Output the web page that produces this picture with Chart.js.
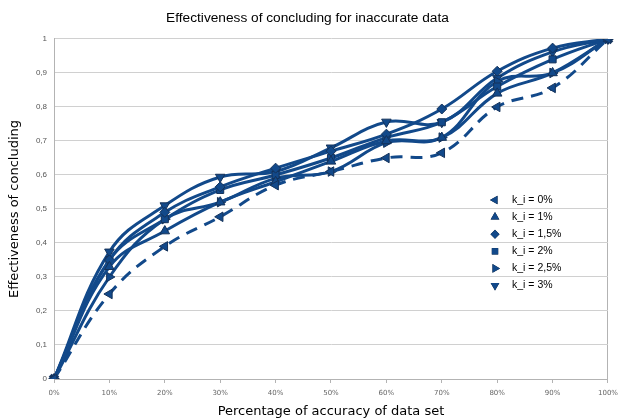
<!DOCTYPE html>
<html>
<head>
<meta charset="utf-8">
<script src="https://cdn.jsdelivr.net/npm/chart.js@4/dist/chart.umd.min.js"></script>
<style>
  body { margin: 0; background: #fff; }
  #wrap { width: 624px; height: 419px; }
</style>
</head>
<body>
<div id="wrap"><canvas id="chart"></canvas></div>
<script>
// accuracy of data set (x axis)
var xLabels = ['0%', '10%', '20%', '30%', '40%', '50%', '60%', '70%', '80%', '90%', '100%'];

var seriesNames = ['k_i = 0%', 'k_i = 1%', 'k_i = 1,5%', 'k_i = 2%', 'k_i = 2,5%', 'k_i = 3%'];

// effectiveness of concluding
var k0  = [0, 0.25, 0.39, 0.477, 0.57, 0.61, 0.65, 0.665, 0.80, 0.856, 1];
var k1  = [0, 0.33, 0.435, 0.52, 0.58, 0.64, 0.70, 0.71, 0.84, 0.90, 1];
var k15 = [0, 0.35, 0.49, 0.565, 0.62, 0.67, 0.72, 0.794, 0.905, 0.973, 1];
var k2  = [0, 0.35, 0.47, 0.556, 0.60, 0.65, 0.71, 0.755, 0.86, 0.94, 1];
var k25 = [0, 0.30, 0.47, 0.52, 0.59, 0.61, 0.695, 0.71, 0.875, 0.90, 1];
var k3  = [0, 0.374, 0.51, 0.594, 0.61, 0.68, 0.756, 0.755, 0.885, 0.962, 1];

var seriesValues = [k0, k1, k15, k2, k25, k3];

var lineColor = '#12498a';
var markerEdge = '#14325a';
// marker look per series: left, up, diamond, square, right, down
var markerStyles = [
    { style: 'triangle', rot: -90 },
    { style: 'triangle', rot: 0 },
    { style: 'rectRot', rot: 0 },
    { style: 'rect', rot: 0 },
    { style: 'triangle', rot: 90 },
    { style: 'triangle', rot: 180 }
];

var datasets = seriesValues.map(function(vals, i) {
    return {
        label: seriesNames[i],
        data: vals,
        borderColor: lineColor,
        backgroundColor: lineColor,
        borderWidth: 3,
        borderDash: i === 0 ? [12, 8] : [],
        tension: 0.4,
        fill: false,
        pointStyle: markerStyles[i].style,
        rotation: markerStyles[i].rot,
        pointRadius: markerStyles[i].style === 'triangle' ? 5.5 : 5,
        pointBorderColor: markerEdge,
        pointBackgroundColor: lineColor,
        pointBorderWidth: 1
    };
});

// legend drawn inside the plot, right side
var innerLegend = {
    id: 'innerLegend',
    afterDraw: function(chart) {
        var ctx = chart.ctx;
        ctx.save();
        chart.data.datasets.forEach(function(ds, i) {
            var y = 200 + i * 17.1;
            Chart.helpers.drawPoint(ctx, {
                pointStyle: ds.pointStyle,
                rotation: ds.rotation,
                radius: ds.pointStyle === 'triangle' ? 5 : 4.5,
                borderWidth: 0
            }, 495, y);
            ctx.fillStyle = lineColor;
            ctx.fill();
            ctx.fillStyle = '#000';
            ctx.font = '10.5px "Liberation Sans", Arial, sans-serif';
            ctx.textBaseline = 'middle';
            ctx.textAlign = 'left';
            ctx.fillText(ds.label, 512, y);
        });
        ctx.restore();
    }
};

var chart = new Chart(document.getElementById('chart').getContext('2d'), {
    type: 'line',
    data: { labels: xLabels, datasets: datasets },
    options: {
        responsive: true,
        maintainAspectRatio: false,
        animation: false,
        layout: { padding: { left: 0, right: 9, top: 0, bottom: 0 } },
        plugins: {
            legend: { display: false },
            tooltip: { enabled: false },
            title: {
                display: true,
                text: 'Effectiveness of concluding for inaccurate data',
                color: '#000',
                font: { family: '"Liberation Sans", Arial, sans-serif', size: 13.7, weight: 'normal' },
                padding: { top: 10, bottom: 12.5 }
            }
        },
        scales: {
            x: {
                offset: false,
                afterFit: function(s) { s.height = 40; },
                grid: {
                    color: function(c) { return c.index === xLabels.length - 1 ? '#b3b3b3' : 'rgba(0,0,0,0)'; },
                    tickColor: '#b3b3b3',
                    tickLength: 4
                },
                border: { color: '#b3b3b3' },
                ticks: {
                    color: '#666',
                    font: { family: '"DejaVu Sans", sans-serif', size: 7 },
                    padding: 6,
                    maxRotation: 0,
                    autoSkip: false
                },
                title: {
                    display: true,
                    text: 'Percentage of accuracy of data set',
                    color: '#000',
                    font: { family: '"DejaVu Sans", sans-serif', size: 13 },
                    padding: { top: 2, bottom: 0 }
                }
            },
            y: {
                min: 0,
                max: 1,
                afterFit: function(s) { s.width = 54; },
                grid: { color: '#d0d0d0', drawTicks: false },
                border: { color: '#b3b3b3' },
                ticks: {
                    stepSize: 0.1,
                    color: '#555',
                    font: { family: '"Liberation Sans", Arial, sans-serif', size: 8 },
                    padding: 7,
                    callback: function(v) { return String(Math.round(v * 10) / 10).replace('.', ','); }
                },
                title: {
                    display: true,
                    text: 'Effectiveness of concluding',
                    color: '#000',
                    font: { family: '"DejaVu Sans", sans-serif', size: 13 },
                    padding: { top: 7, bottom: 0 }
                }
            }
        }
    },
    plugins: [innerLegend]
});
</script>
</body>
</html>
